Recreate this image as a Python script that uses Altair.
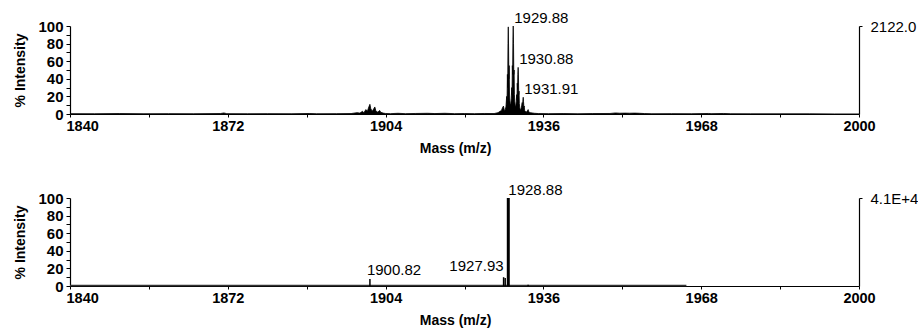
import altair as alt
import pandas as pd

# ---- upper spectrum: profile trace (m/z, % intensity) ----
top_mz = [
    1840.0, 1845.0, 1850.0, 1855.0, 1860.0, 1865.0, 1870.5, 1871.2, 1871.8, 1876.0,
    1880.0, 1885.0, 1888.5, 1890.0, 1894.0, 1897.0, 1898.2, 1898.8, 1899.3, 1899.6,
    1900.0, 1900.3, 1900.6, 1900.82, 1901.0, 1901.3, 1901.6, 1901.82, 1902.0, 1902.3,
    1902.6, 1902.8, 1903.0, 1903.5, 1904.0, 1905.0, 1906.5, 1908.0, 1910.0, 1912.5,
    1914.0, 1916.0, 1918.0, 1920.0, 1922.0, 1924.0, 1926.0, 1926.8, 1927.2, 1927.5,
    1927.7, 1927.9, 1928.05, 1928.2, 1928.4, 1928.55, 1928.62, 1928.7, 1928.76, 1928.82,
    1928.88, 1928.94, 1929.0, 1929.06, 1929.12, 1929.2, 1929.3, 1929.4, 1929.5, 1929.58,
    1929.64, 1929.7, 1929.76, 1929.82, 1929.88, 1929.94, 1930.0, 1930.06, 1930.12, 1930.2,
    1930.3, 1930.42, 1930.5, 1930.58, 1930.64, 1930.7, 1930.76, 1930.82, 1930.88, 1930.94,
    1931.0, 1931.06, 1931.12, 1931.2, 1931.3, 1931.42, 1931.5, 1931.6, 1931.7, 1931.78,
    1931.85, 1931.91, 1931.97, 1932.05, 1932.12, 1932.2, 1932.35, 1932.5, 1932.65, 1932.8,
    1932.9, 1933.0, 1933.15, 1933.4, 1933.7, 1934.2, 1935.0, 1937.0, 1940.0, 1943.0,
    1946.0, 1949.5, 1950.6, 1951.5, 1952.5, 1953.5, 1954.5, 1955.5, 1956.5, 1958.0,
    1962.0, 1966.0, 1969.5, 1970.0, 1972.5, 1974.0, 1978.0, 1984.0, 1990.0, 1995.0,
    2000.0,
]
top_int = [
    0.4, 0.3, 0.5, 0.3, 0.4, 0.3, 0.5, 1.2, 0.4, 0.3,
    0.4, 0.3, 0.6, 0.3, 0.4, 0.5, 1.5, 1.0, 3.0, 1.5,
    5.0, 3.0, 8.0, 11.0, 6.0, 3.0, 6.0, 8.0, 4.0, 2.0,
    3.0, 4.0, 2.0, 1.0, 0.6, 0.4, 0.8, 0.4, 0.6, 0.8,
    0.5, 0.8, 0.4, 0.5, 0.4, 0.6, 0.5, 1.5, 3.0, 4.0,
    7.0, 9.0, 5.0, 4.0, 8.0, 20.0, 12.0, 45.0, 30.0, 80.0,
    99.0, 75.0, 40.0, 55.0, 25.0, 15.0, 10.0, 12.0, 18.0, 30.0,
    22.0, 55.0, 45.0, 85.0, 100.0, 80.0, 45.0, 50.0, 22.0, 14.0,
    8.0, 10.0, 14.0, 22.0, 16.0, 35.0, 28.0, 45.0, 53.0, 42.0,
    22.0, 26.0, 12.0, 7.0, 5.0, 5.0, 7.0, 10.0, 13.0, 10.0,
    16.0, 19.0, 14.0, 8.0, 9.0, 4.0, 3.0, 2.0, 3.0, 4.0,
    5.0, 3.0, 2.0, 1.5, 1.2, 0.8, 0.5, 0.4, 0.5, 0.3,
    0.5, 0.6, 1.2, 0.9, 1.0, 0.9, 1.0, 0.8, 0.5, 0.3,
    0.4, 0.3, 0.6, 0.4, 0.6, 0.3, 0.2, 0.2, 0.2, 0.1,
    0.1,
]
top_label_mz = [1929.88, 1930.88, 1931.91]
top_label_int = [100.0, 53.0, 19.0]
top_abs_max = "2122.0"

# ---- lower spectrum: centroided peak list ----
bot_base_mz = [1840.0, 1880.0, 1920.0, 1965.0]
bot_base_int = [0.6, 0.6, 0.6, 0.6]
bot_mz = [1900.82, 1927.93, 1928.25, 1932.9]
bot_int = [8.0, 10.0, 9.0, 1.5]
bot_main_mz = [1928.88]
bot_main_int = [100.0]
bot_abs_max = "4.1E+4"

FONT = "Liberation Sans"
X_MIN, X_MAX = 1840, 2000

top_df = pd.DataFrame({"mz": top_mz, "inten": top_int})
top_lab = pd.DataFrame({"mz": top_label_mz, "inten": top_label_int,
                        "txt": [f"{v:.2f}" for v in top_label_mz]})
bot_base = pd.DataFrame({"mz": bot_base_mz, "inten": bot_base_int})
bot_df = pd.DataFrame({"mz": bot_mz, "inten": bot_int})
bot_main = pd.DataFrame({"mz": bot_main_mz, "inten": bot_main_int})

x_scale = alt.Scale(domain=[X_MIN, X_MAX], nice=False, zero=False)
y_scale = alt.Scale(domain=[0, 100], nice=False)

x_axis = alt.Axis(
    title="Mass (m/z)",
    values=list(range(X_MIN, X_MAX + 1, 16)),
    labelExpr="(datum.value - 1840) % 32 == 0 ? format(datum.value, 'd') : ''",
    labelAlign={"condition": {"test": "datum.value == 1840", "value": "left"}, "value": "center"},
    labelOffset={"condition": {"test": "datum.value == 1840", "value": -4}, "value": 0},
    labelFontSize=14.5,
    tickSize=3, labelPadding=2, titlePadding=9, titleX=385, grid=False,
    labelFlush=False,
)
y_axis = alt.Axis(
    title="% Intensity",
    values=list(range(0, 101, 10)),
    labelExpr="datum.value % 20 == 0 ? datum.label : ''",
    labelFontSize=15,
    tickSize=4, labelPadding=3, titlePadding=10, grid=False,
)


def X():
    return alt.X("mz:Q", scale=x_scale, axis=x_axis)


def right_axis_layer(text):
    ax = alt.Axis(
        orient="right", title=None, values=[100], labelExpr=f"'{text}'",
        tickSize=3, labelPadding=8, labelFontWeight="normal", labelFontSize=15,
        grid=False,
    )
    return alt.Chart(pd.DataFrame({"v": [100]})).mark_point(opacity=0).encode(
        y=alt.Y("v:Q", scale=y_scale, axis=ax)
    )


W, H = 789, 88

# upper panel
top_area = alt.Chart(top_df).mark_area(color="black", clip=True).encode(
    x=X(), y=alt.Y("inten:Q", scale=y_scale, axis=y_axis)
)
top_line = alt.Chart(top_df).mark_line(color="black", strokeWidth=0.8, clip=True).encode(
    x=X(), y=alt.Y("inten:Q", scale=y_scale, axis=None)
)
top_text = alt.Chart(top_lab).mark_text(
    align="left", baseline="bottom", dx=1, font=FONT, fontSize=15, color="black"
).encode(x=X(), y=alt.Y("inten:Q", scale=y_scale, axis=None), text="txt:N")

top = alt.layer(top_area, top_line, top_text, right_axis_layer(top_abs_max)).resolve_axis(
    y="independent"
).properties(width=W, height=H)

# lower panel
bot_line = alt.Chart(bot_base).mark_line(color="#333", strokeWidth=1.5).encode(
    x=X(), y=alt.Y("inten:Q", scale=y_scale, axis=y_axis)
)
bot_sticks = alt.Chart(bot_df).mark_rule(color="black", strokeWidth=1.5).encode(
    x=X(), y=alt.Y("inten:Q", scale=y_scale, axis=None), y2=alt.datum(0)
)
bot_main_stick = alt.Chart(bot_main).mark_rule(color="black", strokeWidth=3).encode(
    x=X(), y=alt.Y("inten:Q", scale=y_scale, axis=None), y2=alt.datum(0)
)
lab_a = pd.DataFrame({"mz": [1928.88], "inten": [100.0], "txt": ["1928.88"]})
lab_b = pd.DataFrame({"mz": [1927.93], "inten": [10.0], "txt": ["1927.93"]})
lab_c = pd.DataFrame({"mz": [1900.82], "inten": [8.0], "txt": ["1900.82"]})
text_kw = dict(font=FONT, fontSize=15, color="black", baseline="bottom")
bot_text_a = alt.Chart(lab_a).mark_text(align="left", dx=0, **text_kw).encode(
    x=X(), y=alt.Y("inten:Q", scale=y_scale, axis=None), text="txt:N")
bot_text_b = alt.Chart(lab_b).mark_text(align="right", dx=0, dy=-3, **text_kw).encode(
    x=X(), y=alt.Y("inten:Q", scale=y_scale, axis=None), text="txt:N")
bot_text_c = alt.Chart(lab_c).mark_text(align="left", dx=-3, dy=-1, **text_kw).encode(
    x=X(), y=alt.Y("inten:Q", scale=y_scale, axis=None), text="txt:N")

bottom = alt.layer(
    bot_line, bot_sticks, bot_main_stick, bot_text_a, bot_text_b, bot_text_c,
    right_axis_layer(bot_abs_max),
).resolve_axis(y="independent").properties(width=W, height=H)

chart = alt.vconcat(top, bottom, spacing=27).properties(
    padding={"left": 13, "top": 11, "right": 0, "bottom": 0},
    background="white",
).configure_view(stroke=None).configure_axis(
    labelFont=FONT, titleFont=FONT, labelFontSize=14, titleFontSize=14,
    labelFontWeight="bold", titleFontWeight="bold",
    labelColor="black", titleColor="black", domainColor="black", tickColor="black",
    domainWidth=1.2,
)

chart.save("out.html", embed_options={"renderer": "svg", "actions": False})
